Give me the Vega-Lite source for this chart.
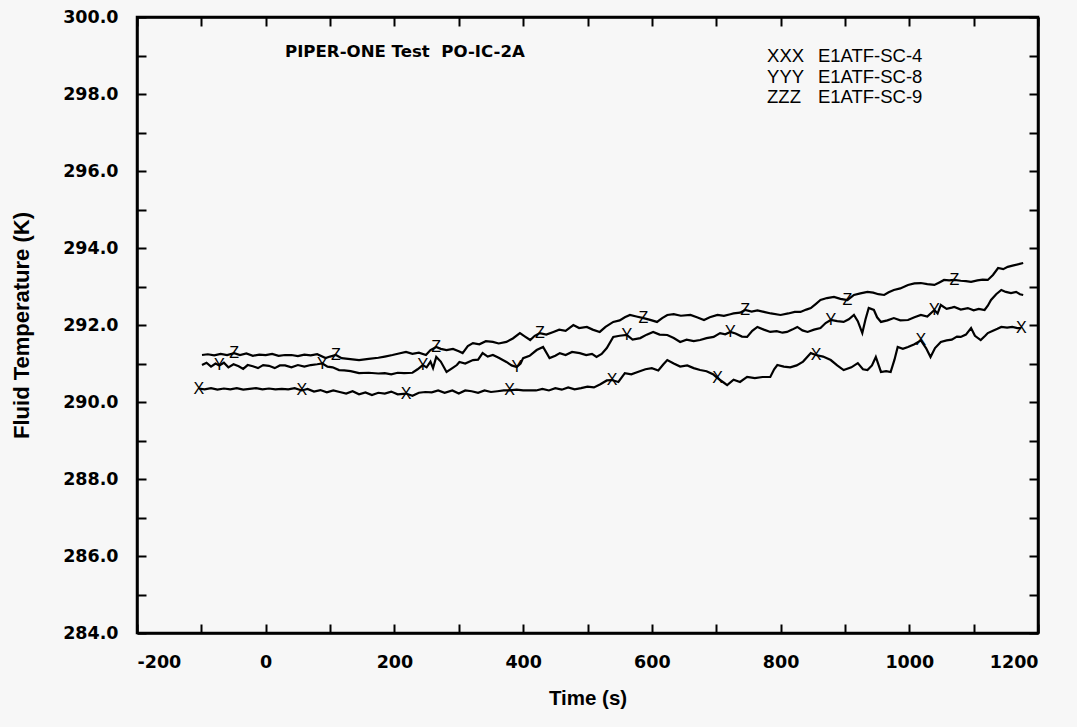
{
  "$schema": "https://vega.github.io/schema/vega-lite/v6.json",
  "autosize": {"type": "none"},
  "width": 901,
  "height": 616,
  "padding": {"left": 137, "top": 17, "right": 39, "bottom": 94},
  "background": "#f7f7f7",
  "config": {
    "view": {"stroke": "black", "strokeWidth": 2.5},
    "font": "Liberation Sans",
    "axis": {
      "domainColor": "black", "domainWidth": 2.5, "tickColor": "black", "tickWidth": 2,
      "tickSize": -9, "grid": false, "labelFont": "DejaVu Sans", "labelFontWeight": "bold",
      "labelFontSize": 17.5, "labelColor": "black", "titleFont": "Liberation Sans",
      "titleFontWeight": "bold", "titleFontSize": 20.5, "titleColor": "black"
    }
  },
  "datasets": {
    "series": [
      {"s":"X","t":-104,"T":290.35},{"s":"X","t":-95,"T":290.33},{"s":"X","t":-85,"T":290.36},{"s":"X","t":-75,"T":290.32},{"s":"X","t":-65,"T":290.35},{"s":"X","t":-55,"T":290.33},{"s":"X","t":-45,"T":290.36},{"s":"X","t":-35,"T":290.32},{"s":"X","t":-25,"T":290.34},{"s":"X","t":-15,"T":290.36},{"s":"X","t":-5,"T":290.33},{"s":"X","t":5,"T":290.35},{"s":"X","t":15,"T":290.33},{"s":"X","t":25,"T":290.34},{"s":"X","t":35,"T":290.33},{"s":"X","t":45,"T":290.36},{"s":"X","t":56,"T":290.30},{"s":"X","t":65,"T":290.34},{"s":"X","t":75,"T":290.27},{"s":"X","t":85,"T":290.31},{"s":"X","t":95,"T":290.25},{"s":"X","t":105,"T":290.30},{"s":"X","t":115,"T":290.26},{"s":"X","t":125,"T":290.22},{"s":"X","t":135,"T":290.28},{"s":"X","t":145,"T":290.20},{"s":"X","t":155,"T":290.25},{"s":"X","t":165,"T":290.18},{"s":"X","t":175,"T":290.24},{"s":"X","t":185,"T":290.22},{"s":"X","t":195,"T":290.27},{"s":"X","t":205,"T":290.20},{"s":"X","t":218,"T":290.22},{"s":"X","t":228,"T":290.16},{"s":"X","t":238,"T":290.24},{"s":"X","t":248,"T":290.26},{"s":"X","t":258,"T":290.25},{"s":"X","t":268,"T":290.30},{"s":"X","t":278,"T":290.24},{"s":"X","t":290,"T":290.30},{"s":"X","t":300,"T":290.22},{"s":"X","t":310,"T":290.30},{"s":"X","t":320,"T":290.28},{"s":"X","t":330,"T":290.24},{"s":"X","t":340,"T":290.30},{"s":"X","t":350,"T":290.26},{"s":"X","t":360,"T":290.28},{"s":"X","t":370,"T":290.30},{"s":"X","t":379,"T":290.30},{"s":"X","t":390,"T":290.32},{"s":"X","t":400,"T":290.30},{"s":"X","t":410,"T":290.30},{"s":"X","t":420,"T":290.30},{"s":"X","t":430,"T":290.34},{"s":"X","t":440,"T":290.30},{"s":"X","t":450,"T":290.36},{"s":"X","t":460,"T":290.32},{"s":"X","t":470,"T":290.38},{"s":"X","t":480,"T":290.33},{"s":"X","t":490,"T":290.36},{"s":"X","t":500,"T":290.40},{"s":"X","t":510,"T":290.38},{"s":"X","t":520,"T":290.46},{"s":"X","t":530,"T":290.56},{"s":"X","t":538,"T":290.57},{"s":"X","t":548,"T":290.52},{"s":"X","t":558,"T":290.75},{"s":"X","t":568,"T":290.72},{"s":"X","t":578,"T":290.78},{"s":"X","t":590,"T":290.85},{"s":"X","t":600,"T":290.88},{"s":"X","t":610,"T":290.82},{"s":"X","t":618,"T":290.98},{"s":"X","t":624,"T":291.09},{"s":"X","t":634,"T":291.00},{"s":"X","t":644,"T":290.92},{"s":"X","t":655,"T":290.95},{"s":"X","t":665,"T":290.88},{"s":"X","t":675,"T":290.83},{"s":"X","t":685,"T":290.80},{"s":"X","t":695,"T":290.72},{"s":"X","t":702,"T":290.62},{"s":"X","t":712,"T":290.50},{"s":"X","t":717,"T":290.44},{"s":"X","t":727,"T":290.58},{"s":"X","t":737,"T":290.52},{"s":"X","t":748,"T":290.65},{"s":"X","t":760,"T":290.62},{"s":"X","t":772,"T":290.65},{"s":"X","t":784,"T":290.65},{"s":"X","t":790,"T":290.85},{"s":"X","t":795,"T":290.96},{"s":"X","t":805,"T":290.92},{"s":"X","t":815,"T":290.90},{"s":"X","t":825,"T":290.95},{"s":"X","t":835,"T":291.05},{"s":"X","t":847,"T":291.27},{"s":"X","t":855,"T":291.22},{"s":"X","t":866,"T":291.18},{"s":"X","t":878,"T":291.09},{"s":"X","t":888,"T":290.95},{"s":"X","t":898,"T":290.83},{"s":"X","t":910,"T":290.90},{"s":"X","t":920,"T":291.01},{"s":"X","t":928,"T":290.85},{"s":"X","t":935,"T":290.83},{"s":"X","t":942,"T":290.95},{"s":"X","t":948,"T":291.17},{"s":"X","t":956,"T":290.78},{"s":"X","t":964,"T":290.80},{"s":"X","t":971,"T":290.78},{"s":"X","t":977,"T":291.10},{"s":"X","t":982,"T":291.43},{"s":"X","t":990,"T":291.38},{"s":"X","t":998,"T":291.43},{"s":"X","t":1008,"T":291.50},{"s":"X","t":1018,"T":291.60},{"s":"X","t":1026,"T":291.40},{"s":"X","t":1033,"T":291.17},{"s":"X","t":1040,"T":291.40},{"s":"X","t":1049,"T":291.56},{"s":"X","t":1058,"T":291.60},{"s":"X","t":1066,"T":291.62},{"s":"X","t":1074,"T":291.70},{"s":"X","t":1080,"T":291.69},{"s":"X","t":1088,"T":291.75},{"s":"X","t":1096,"T":291.92},{"s":"X","t":1102,"T":291.72},{"s":"X","t":1111,"T":291.61},{"s":"X","t":1118,"T":291.72},{"s":"X","t":1122,"T":291.79},{"s":"X","t":1130,"T":291.85},{"s":"X","t":1137,"T":291.90},{"s":"X","t":1143,"T":291.95},{"s":"X","t":1152,"T":291.93},{"s":"X","t":1160,"T":291.95},{"s":"X","t":1168,"T":291.92},{"s":"X","t":1174,"T":291.92},
      {"s":"Y","t":-99,"T":290.96},{"s":"Y","t":-92,"T":291.02},{"s":"Y","t":-85,"T":290.92},{"s":"Y","t":-78,"T":291.00},{"s":"Y","t":-72,"T":290.95},{"s":"Y","t":-65,"T":291.02},{"s":"Y","t":-58,"T":290.90},{"s":"Y","t":-50,"T":290.98},{"s":"Y","t":-42,"T":290.93},{"s":"Y","t":-35,"T":290.86},{"s":"Y","t":-28,"T":290.96},{"s":"Y","t":-20,"T":290.93},{"s":"Y","t":-12,"T":290.88},{"s":"Y","t":-4,"T":290.96},{"s":"Y","t":5,"T":290.94},{"s":"Y","t":14,"T":290.88},{"s":"Y","t":22,"T":290.95},{"s":"Y","t":30,"T":290.95},{"s":"Y","t":40,"T":290.90},{"s":"Y","t":50,"T":290.96},{"s":"Y","t":60,"T":290.92},{"s":"Y","t":70,"T":290.96},{"s":"Y","t":80,"T":290.98},{"s":"Y","t":88,"T":291.00},{"s":"Y","t":96,"T":290.92},{"s":"Y","t":104,"T":290.90},{"s":"Y","t":114,"T":290.83},{"s":"Y","t":122,"T":290.82},{"s":"Y","t":132,"T":290.80},{"s":"Y","t":145,"T":290.75},{"s":"Y","t":160,"T":290.76},{"s":"Y","t":175,"T":290.74},{"s":"Y","t":185,"T":290.75},{"s":"Y","t":195,"T":290.72},{"s":"Y","t":205,"T":290.76},{"s":"Y","t":215,"T":290.75},{"s":"Y","t":228,"T":290.76},{"s":"Y","t":236,"T":290.85},{"s":"Y","t":244,"T":290.96},{"s":"Y","t":250,"T":290.90},{"s":"Y","t":256,"T":291.05},{"s":"Y","t":260,"T":290.88},{"s":"Y","t":265,"T":291.17},{"s":"Y","t":272,"T":291.05},{"s":"Y","t":281,"T":290.78},{"s":"Y","t":290,"T":290.88},{"s":"Y","t":297,"T":290.96},{"s":"Y","t":301,"T":291.04},{"s":"Y","t":310,"T":291.00},{"s":"Y","t":322,"T":291.09},{"s":"Y","t":330,"T":291.10},{"s":"Y","t":337,"T":291.27},{"s":"Y","t":345,"T":291.18},{"s":"Y","t":353,"T":291.22},{"s":"Y","t":362,"T":291.15},{"s":"Y","t":374,"T":291.04},{"s":"Y","t":382,"T":290.95},{"s":"Y","t":390,"T":290.91},{"s":"Y","t":396,"T":291.00},{"s":"Y","t":400,"T":291.14},{"s":"Y","t":410,"T":291.20},{"s":"Y","t":421,"T":291.35},{"s":"Y","t":431,"T":291.43},{"s":"Y","t":441,"T":291.14},{"s":"Y","t":450,"T":291.20},{"s":"Y","t":457,"T":291.27},{"s":"Y","t":466,"T":291.22},{"s":"Y","t":476,"T":291.30},{"s":"Y","t":488,"T":291.27},{"s":"Y","t":498,"T":291.22},{"s":"Y","t":507,"T":291.25},{"s":"Y","t":514,"T":291.17},{"s":"Y","t":522,"T":291.25},{"s":"Y","t":530,"T":291.40},{"s":"Y","t":540,"T":291.69},{"s":"Y","t":550,"T":291.72},{"s":"Y","t":561,"T":291.74},{"s":"Y","t":570,"T":291.62},{"s":"Y","t":582,"T":291.66},{"s":"Y","t":592,"T":291.75},{"s":"Y","t":602,"T":291.82},{"s":"Y","t":612,"T":291.75},{"s":"Y","t":624,"T":291.74},{"s":"Y","t":634,"T":291.66},{"s":"Y","t":644,"T":291.56},{"s":"Y","t":654,"T":291.62},{"s":"Y","t":665,"T":291.58},{"s":"Y","t":675,"T":291.61},{"s":"Y","t":685,"T":291.66},{"s":"Y","t":696,"T":291.69},{"s":"Y","t":706,"T":291.79},{"s":"Y","t":714,"T":291.76},{"s":"Y","t":722,"T":291.82},{"s":"Y","t":730,"T":291.78},{"s":"Y","t":740,"T":291.70},{"s":"Y","t":748,"T":291.69},{"s":"Y","t":756,"T":291.85},{"s":"Y","t":764,"T":291.95},{"s":"Y","t":774,"T":291.88},{"s":"Y","t":784,"T":291.82},{"s":"Y","t":794,"T":291.84},{"s":"Y","t":803,"T":291.80},{"s":"Y","t":810,"T":291.82},{"s":"Y","t":818,"T":291.88},{"s":"Y","t":826,"T":291.95},{"s":"Y","t":834,"T":291.86},{"s":"Y","t":842,"T":291.82},{"s":"Y","t":852,"T":291.88},{"s":"Y","t":862,"T":291.92},{"s":"Y","t":870,"T":292.05},{"s":"Y","t":878,"T":292.13},{"s":"Y","t":888,"T":292.10},{"s":"Y","t":898,"T":292.08},{"s":"Y","t":906,"T":292.15},{"s":"Y","t":914,"T":292.26},{"s":"Y","t":920,"T":292.10},{"s":"Y","t":927,"T":291.79},{"s":"Y","t":932,"T":292.15},{"s":"Y","t":937,"T":292.44},{"s":"Y","t":945,"T":292.39},{"s":"Y","t":950,"T":292.20},{"s":"Y","t":956,"T":292.08},{"s":"Y","t":966,"T":292.12},{"s":"Y","t":976,"T":292.18},{"s":"Y","t":986,"T":292.12},{"s":"Y","t":998,"T":292.13},{"s":"Y","t":1008,"T":292.20},{"s":"Y","t":1018,"T":292.26},{"s":"Y","t":1028,"T":292.22},{"s":"Y","t":1039,"T":292.39},{"s":"Y","t":1044,"T":292.30},{"s":"Y","t":1049,"T":292.52},{"s":"Y","t":1058,"T":292.42},{"s":"Y","t":1066,"T":292.45},{"s":"Y","t":1070,"T":292.47},{"s":"Y","t":1080,"T":292.40},{"s":"Y","t":1091,"T":292.44},{"s":"Y","t":1100,"T":292.38},{"s":"Y","t":1108,"T":292.42},{"s":"Y","t":1117,"T":292.39},{"s":"Y","t":1122,"T":292.50},{"s":"Y","t":1127,"T":292.65},{"s":"Y","t":1135,"T":292.80},{"s":"Y","t":1143,"T":292.91},{"s":"Y","t":1150,"T":292.86},{"s":"Y","t":1158,"T":292.83},{"s":"Y","t":1166,"T":292.86},{"s":"Y","t":1172,"T":292.80},{"s":"Y","t":1177,"T":292.78},
      {"s":"Z","t":-99,"T":291.22},{"s":"Z","t":-90,"T":291.24},{"s":"Z","t":-80,"T":291.21},{"s":"Z","t":-70,"T":291.25},{"s":"Z","t":-60,"T":291.22},{"s":"Z","t":-49,"T":291.27},{"s":"Z","t":-40,"T":291.22},{"s":"Z","t":-30,"T":291.26},{"s":"Z","t":-20,"T":291.20},{"s":"Z","t":-10,"T":291.23},{"s":"Z","t":0,"T":291.22},{"s":"Z","t":10,"T":291.25},{"s":"Z","t":20,"T":291.20},{"s":"Z","t":30,"T":291.22},{"s":"Z","t":40,"T":291.22},{"s":"Z","t":50,"T":291.19},{"s":"Z","t":60,"T":291.23},{"s":"Z","t":70,"T":291.21},{"s":"Z","t":80,"T":291.24},{"s":"Z","t":93,"T":291.14},{"s":"Z","t":100,"T":291.18},{"s":"Z","t":109,"T":291.22},{"s":"Z","t":118,"T":291.14},{"s":"Z","t":128,"T":291.12},{"s":"Z","t":145,"T":291.09},{"s":"Z","t":160,"T":291.12},{"s":"Z","t":175,"T":291.15},{"s":"Z","t":185,"T":291.18},{"s":"Z","t":197,"T":291.22},{"s":"Z","t":207,"T":291.26},{"s":"Z","t":218,"T":291.30},{"s":"Z","t":228,"T":291.25},{"s":"Z","t":238,"T":291.28},{"s":"Z","t":249,"T":291.22},{"s":"Z","t":256,"T":291.35},{"s":"Z","t":265,"T":291.43},{"s":"Z","t":272,"T":291.38},{"s":"Z","t":281,"T":291.35},{"s":"Z","t":291,"T":291.38},{"s":"Z","t":300,"T":291.32},{"s":"Z","t":306,"T":291.27},{"s":"Z","t":314,"T":291.45},{"s":"Z","t":322,"T":291.53},{"s":"Z","t":332,"T":291.50},{"s":"Z","t":342,"T":291.58},{"s":"Z","t":353,"T":291.56},{"s":"Z","t":362,"T":291.52},{"s":"Z","t":374,"T":291.56},{"s":"Z","t":384,"T":291.65},{"s":"Z","t":395,"T":291.79},{"s":"Z","t":403,"T":291.70},{"s":"Z","t":411,"T":291.61},{"s":"Z","t":418,"T":291.72},{"s":"Z","t":426,"T":291.79},{"s":"Z","t":436,"T":291.75},{"s":"Z","t":447,"T":291.82},{"s":"Z","t":456,"T":291.88},{"s":"Z","t":466,"T":291.85},{"s":"Z","t":478,"T":292.00},{"s":"Z","t":487,"T":291.92},{"s":"Z","t":499,"T":291.95},{"s":"Z","t":508,"T":291.88},{"s":"Z","t":519,"T":291.82},{"s":"Z","t":528,"T":291.95},{"s":"Z","t":540,"T":292.08},{"s":"Z","t":550,"T":292.12},{"s":"Z","t":558,"T":292.20},{"s":"Z","t":566,"T":292.26},{"s":"Z","t":576,"T":292.22},{"s":"Z","t":587,"T":292.18},{"s":"Z","t":596,"T":292.14},{"s":"Z","t":608,"T":292.08},{"s":"Z","t":616,"T":292.18},{"s":"Z","t":624,"T":292.26},{"s":"Z","t":634,"T":292.28},{"s":"Z","t":645,"T":292.24},{"s":"Z","t":660,"T":292.26},{"s":"Z","t":670,"T":292.20},{"s":"Z","t":681,"T":292.13},{"s":"Z","t":690,"T":292.20},{"s":"Z","t":702,"T":292.26},{"s":"Z","t":712,"T":292.24},{"s":"Z","t":722,"T":292.28},{"s":"Z","t":727,"T":292.30},{"s":"Z","t":737,"T":292.32},{"s":"Z","t":745,"T":292.39},{"s":"Z","t":755,"T":292.35},{"s":"Z","t":764,"T":292.38},{"s":"Z","t":774,"T":292.34},{"s":"Z","t":785,"T":292.30},{"s":"Z","t":800,"T":292.26},{"s":"Z","t":812,"T":292.30},{"s":"Z","t":822,"T":292.34},{"s":"Z","t":831,"T":292.34},{"s":"Z","t":840,"T":292.40},{"s":"Z","t":847,"T":292.44},{"s":"Z","t":855,"T":292.55},{"s":"Z","t":862,"T":292.65},{"s":"Z","t":872,"T":292.70},{"s":"Z","t":883,"T":292.73},{"s":"Z","t":893,"T":292.68},{"s":"Z","t":904,"T":292.65},{"s":"Z","t":914,"T":292.78},{"s":"Z","t":924,"T":292.82},{"s":"Z","t":935,"T":292.86},{"s":"Z","t":944,"T":292.84},{"s":"Z","t":952,"T":292.80},{"s":"Z","t":961,"T":292.78},{"s":"Z","t":968,"T":292.85},{"s":"Z","t":976,"T":292.91},{"s":"Z","t":986,"T":292.95},{"s":"Z","t":998,"T":293.04},{"s":"Z","t":1008,"T":293.08},{"s":"Z","t":1018,"T":293.09},{"s":"Z","t":1028,"T":293.06},{"s":"Z","t":1039,"T":293.04},{"s":"Z","t":1046,"T":293.10},{"s":"Z","t":1054,"T":293.17},{"s":"Z","t":1062,"T":293.16},{"s":"Z","t":1070,"T":293.17},{"s":"Z","t":1080,"T":293.15},{"s":"Z","t":1088,"T":293.14},{"s":"Z","t":1096,"T":293.12},{"s":"Z","t":1106,"T":293.16},{"s":"Z","t":1114,"T":293.18},{"s":"Z","t":1122,"T":293.17},{"s":"Z","t":1130,"T":293.30},{"s":"Z","t":1138,"T":293.48},{"s":"Z","t":1146,"T":293.45},{"s":"Z","t":1153,"T":293.51},{"s":"Z","t":1162,"T":293.55},{"s":"Z","t":1170,"T":293.58},{"s":"Z","t":1177,"T":293.61}
    ],
    "markers": [
      {"s":"X","t":-104,"T":290.35},{"s":"X","t":56,"T":290.30},{"s":"X","t":218,"T":290.22},{"s":"X","t":379,"T":290.30},{"s":"X","t":538,"T":290.57},{"s":"X","t":702,"T":290.62},{"s":"X","t":855,"T":291.22},{"s":"X","t":1018,"T":291.60},{"s":"X","t":1174,"T":291.92},
      {"s":"Y","t":-72,"T":290.95},{"s":"Y","t":88,"T":291.00},{"s":"Y","t":244,"T":290.96},{"s":"Y","t":390,"T":290.91},{"s":"Y","t":561,"T":291.74},{"s":"Y","t":722,"T":291.82},{"s":"Y","t":878,"T":292.13},{"s":"Y","t":1039,"T":292.39},
      {"s":"Z","t":-49,"T":291.27},{"s":"Z","t":109,"T":291.22},{"s":"Z","t":265,"T":291.43},{"s":"Z","t":426,"T":291.79},{"s":"Z","t":587,"T":292.18},{"s":"Z","t":745,"T":292.39},{"s":"Z","t":904,"T":292.65},{"s":"Z","t":1070,"T":293.17}
    ],
    "notes": [
      {"t":779,"T":298.99,"label":"XXX"},
      {"t":779,"T":298.45,"label":"YYY"},
      {"t":779,"T":297.93,"label":"ZZZ"},
      {"t":858,"T":298.99,"label":"E1ATF-SC-4"},
      {"t":858,"T":298.45,"label":"E1ATF-SC-8"},
      {"t":858,"T":297.93,"label":"E1ATF-SC-9"}
    ],
    "title": [
      {"t":30,"T":299.09,"label":"PIPER-ONE Test\u00a0\u00a0PO-IC-2A"}
    ]
  },
  "layer": [
    {
      "data": {"name": "series"},
      "mark": {"type": "line", "color": "black", "strokeWidth": 2.2, "interpolate": "linear"},
      "encoding": {
        "x": {"field": "t", "type": "quantitative", "scale": {"domain": [-200, 1200], "nice": false, "zero": false},
              "axis": {"title": "Time (s)", "values": [-200,-100,0,100,200,300,400,500,600,700,800,900,1000,1100,1200],
                       "labelExpr": "datum.value % 200 === 0 ? '' + datum.value : ''", "labelPadding": 29, "titlePadding": 18}},
        "y": {"field": "T", "type": "quantitative", "scale": {"domain": [284, 300], "nice": false, "zero": false},
              "axis": {"title": "Fluid Temperature (K)", "titleFontSize": 22, "format": ".1f", "values": [284,285,286,287,288,289,290,291,292,293,294,295,296,297,298,299,300],
                       "labelExpr": "datum.value % 2 === 0 ? datum.label : ''", "labelPadding": 28, "titlePadding": 29}},
        "detail": {"field": "s"}
      }
    },
    {
      "mark": {"type": "rule", "color": "black", "strokeWidth": 1, "strokeDash": [7, 5]},
      "encoding": {"x": {"datum": 0, "axis": null}}
    },
    {
      "data": {"name": "markers"},
      "mark": {"type": "point", "opacity": 0},
      "encoding": {
        "x": {"field": "t", "type": "quantitative",
              "axis": {"orient": "top", "title": null, "labels": false, "values": [-200,-100,0,100,200,300,400,500,600,700,800,900,1000,1100,1200]}},
        "y": {"field": "T", "type": "quantitative",
              "axis": {"orient": "right", "title": null, "labels": false, "values": [284,285,286,287,288,289,290,291,292,293,294,295,296,297,298,299,300]}}
      }
    },
    {
      "data": {"name": "markers"},
      "mark": {"type": "text", "font": "Liberation Sans", "fontSize": 16, "color": "black", "align": "center", "baseline": "middle"},
      "encoding": {
        "x": {"field": "t", "type": "quantitative", "axis": null},
        "y": {"field": "T", "type": "quantitative", "axis": null},
        "text": {"field": "s"}
      }
    },
    {
      "data": {"name": "notes"},
      "mark": {"type": "text", "font": "Liberation Sans", "fontSize": 18.5, "color": "black", "align": "left", "baseline": "middle"},
      "encoding": {
        "x": {"field": "t", "type": "quantitative", "axis": null},
        "y": {"field": "T", "type": "quantitative", "axis": null},
        "text": {"field": "label"}
      }
    },
    {
      "data": {"name": "title"},
      "mark": {"type": "text", "font": "DejaVu Sans", "fontSize": 16.6, "fontWeight": "bold", "color": "black", "align": "left", "baseline": "middle"},
      "encoding": {
        "x": {"field": "t", "type": "quantitative", "axis": null},
        "y": {"field": "T", "type": "quantitative", "axis": null},
        "text": {"field": "label"}
      }
    }
  ],
  "resolve": {"axis": {"x": "independent", "y": "independent"}}
}
